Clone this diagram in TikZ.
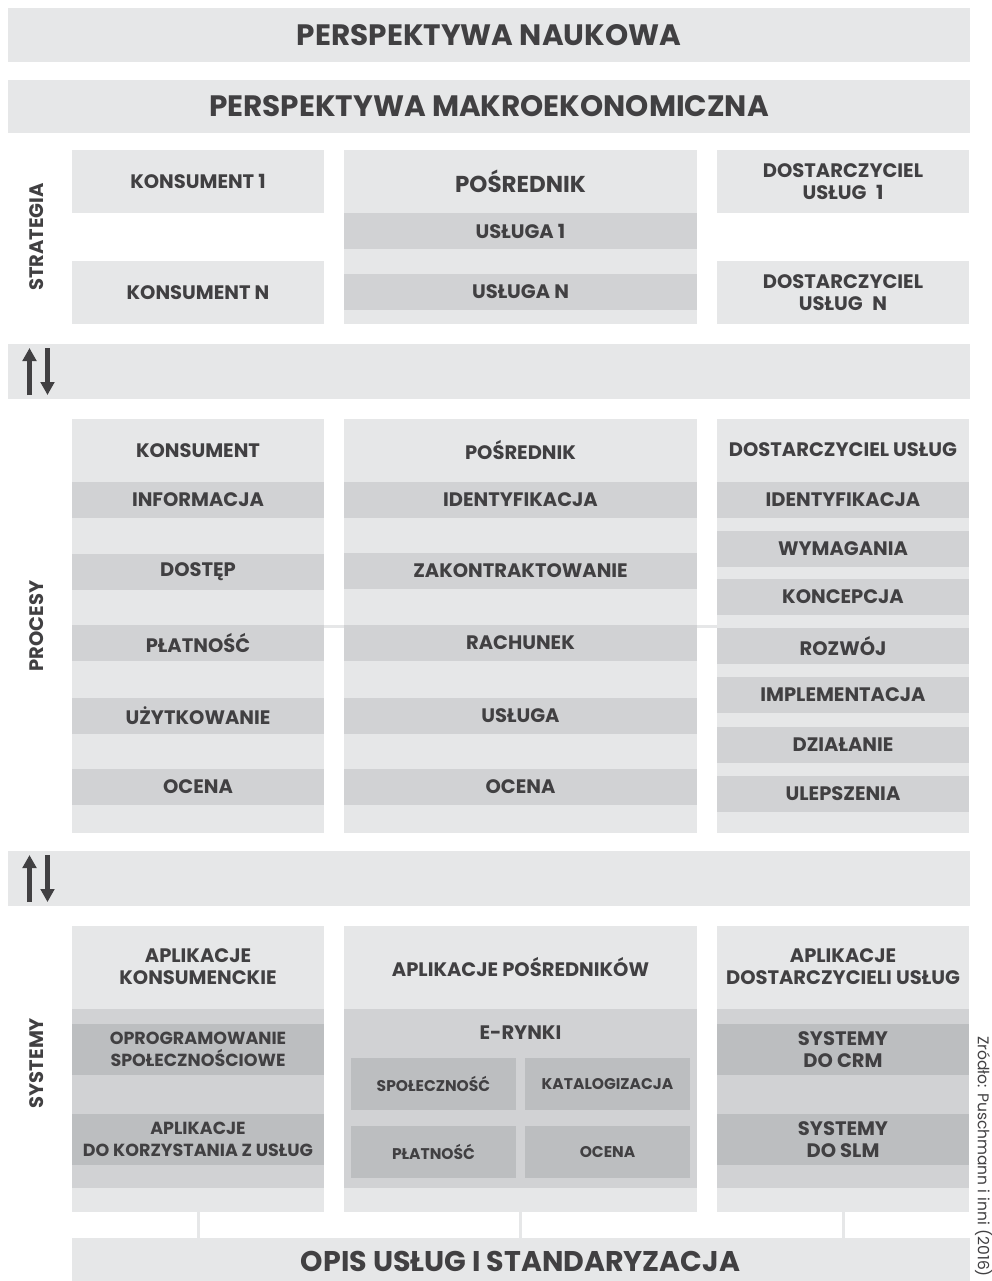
\documentclass[tikz,border=0pt]{standalone}
\usepackage{fontspec}
\setmainfont{Poppins}
\usetikzlibrary{arrows.meta}
\definecolor{lt}{HTML}{E6E7E8}
\definecolor{md}{HTML}{D1D2D4}
\definecolor{dk}{HTML}{BCBEC0}
\definecolor{tx}{HTML}{414042}
\newcommand\rb[7]{%
  \node[#2, minimum width={#5-#3}, minimum height={#6-#4}] (#1) at ({(#3+#5)/2},{-(#4+#6)/2}) {#7};}
\newcommand\lblfont{\bfseries\fontsize{19.5}{22}\selectfont}
\begin{document}
\begin{tikzpicture}[x=1pt,y=1pt,
  every node/.style={inner sep=0pt, outer sep=0pt, text=tx, align=center},
  lbox/.style={fill=lt, font=\lblfont},
  mbox/.style={fill=md, font=\lblfont},
  dbox/.style={fill=dk, font=\lblfont},
  dboxs/.style={fill=dk, font=\bfseries\fontsize{17.5}{22}\selectfont},
  sbox/.style={fill=dk, font=\bfseries\fontsize{15.5}{18}\selectfont},
  title/.style={fill=lt, font=\bfseries\fontsize{29.5}{34}\selectfont},
  hdr/.style={font=\lblfont},
  side/.style={rotate=90, font=\lblfont},
  arr/.style={draw=tx, line width=5pt, -{Triangle[length=13pt,width=13.5pt]}},
  conn/.style={draw=lt, line width=3pt},
  faint/.style={draw=lt, line width=2.5pt}]
\useasboundingbox (0,0) rectangle (992,-1281);
\fill[white] (0,0) rectangle (992,-1281);

% top bands
\rb{nauk}{title}{8}{8}{970}{62}{PERSPEKTYWA NAUKOWA}
\rb{makro}{title}{8}{80}{970}{133}{PERSPEKTYWA MAKROEKONOMICZNA}

% strategy
\node[side] (strat) at (37,-237) {STRATEGIA};
\rb{k1}{lbox}{72}{150}{324}{213}{KONSUMENT 1}
\rb{kn}{lbox}{72}{261}{324}{324}{KONSUMENT N}
\rb{spos}{lbox}{344}{150}{697}{324}{}
\node[font=\bfseries\fontsize{23}{26}\selectfont] (sposh) at (520.5,-181.5) {POŚREDNIK};
\rb{u1}{mbox}{344}{213}{697}{249}{USŁUGA 1}
\rb{un}{mbox}{344}{274}{697}{310}{USŁUGA N}
\rb{d1}{lbox}{717}{150}{969}{213}{DOSTARCZYCIEL\\USŁUG\enspace 1}
\rb{dn}{lbox}{717}{261}{969}{324}{DOSTARCZYCIEL\\USŁUG\enspace N}

% arrow band 1
\rb{arr1}{lbox}{8}{344}{970}{399}{}
\coordinate (a1u0) at (29.5,-395); \coordinate (a1u1) at (29.5,-348);
\coordinate (a1d0) at (47.5,-348); \coordinate (a1d1) at (47.5,-395);
\draw[arr] (a1u0) -- (a1u1);
\draw[arr] (a1d0) -- (a1d1);

% processes
\node[side] (proc) at (37,-626) {PROCESY};
\draw[faint] (324,-626.5) -- (717,-626.5);
\rb{pk}{lbox}{72}{419}{324}{833}{}
\node[hdr] (pkh) at (198,-450.5) {KONSUMENT};
\rb{pk1}{mbox}{72}{482}{324}{518}{INFORMACJA}
\rb{pk2}{mbox}{72}{554}{324}{590}{DOSTĘP}
\rb{pk3}{mbox}{72}{625}{324}{661}{PŁATNOŚĆ}
\rb{pk4}{mbox}{72}{698}{324}{734}{UŻYTKOWANIE}
\rb{pk5}{mbox}{72}{769}{324}{805}{OCENA}

\rb{pp}{lbox}{344}{419}{697}{833}{}
\node[hdr] (pph) at (520.5,-450.5) {POŚREDNIK};
\rb{pp1}{mbox}{344}{482}{697}{518}{IDENTYFIKACJA}
\rb{pp2}{mbox}{344}{553}{697}{589}{ZAKONTRAKTOWANIE}
\rb{pp3}{mbox}{344}{625}{697}{661}{RACHUNEK}
\rb{pp4}{mbox}{344}{698}{697}{734}{USŁUGA}
\rb{pp5}{mbox}{344}{769}{697}{805}{OCENA}

\rb{pd}{lbox}{717}{419}{969}{833}{}
\node[hdr] (pdh) at (843,-449.5) {DOSTARCZYCIEL USŁUG};
\rb{pd1}{mbox}{717}{482}{969}{518}{IDENTYFIKACJA}
\rb{pd2}{mbox}{717}{531}{969}{567}{WYMAGANIA}
\rb{pd3}{mbox}{717}{579}{969}{615}{KONCEPCJA}
\rb{pd4}{mbox}{717}{628}{969}{664}{ROZWÓJ}
\rb{pd5}{mbox}{717}{677}{969}{713}{IMPLEMENTACJA}
\rb{pd6}{mbox}{717}{727}{969}{763}{DZIAŁANIE}
\rb{pd7}{mbox}{717}{776}{969}{812}{ULEPSZENIA}

% arrow band 2
\rb{arr2}{lbox}{8}{851}{970}{906}{}
\coordinate (a2u0) at (29.5,-902); \coordinate (a2u1) at (29.5,-855);
\coordinate (a2d0) at (47.5,-855); \coordinate (a2d1) at (47.5,-902);
\draw[arr] (a2u0) -- (a2u1);
\draw[arr] (a2d0) -- (a2d1);

% systems
\node[side] (sys) at (37,-1063) {SYSTEMY};
\rb{sk}{lbox}{72}{926}{324}{1212}{}
\node[hdr] (skh) at (198,-967) {APLIKACJE\\KONSUMENCKIE};
\rb{skm}{mbox}{72}{1009}{324}{1188}{}
\rb{sk1}{dboxs}{72}{1024}{324}{1075}{OPROGRAMOWANIE\\SPOŁECZNOŚCIOWE}
\rb{sk2}{dboxs}{72}{1114}{324}{1165}{APLIKACJE\\DO KORZYSTANIA Z USŁUG}

\rb{sp}{lbox}{344}{926}{697}{1212}{}
\node[hdr] (sph) at (520.5,-967) {APLIKACJE POŚREDNIKÓW};
\rb{spm}{mbox}{344}{1009}{697}{1188}{}
\node[hdr] (erynki) at (520.5,-1033) {E-RYNKI};
\rb{sp1}{sbox}{351}{1058}{516}{1110}{SPOŁECZNOŚĆ}
\rb{sp2}{sbox}{525}{1058}{690}{1110}{KATALOGIZACJA}
\rb{sp3}{sbox}{351}{1126}{516}{1178}{PŁATNOŚĆ}
\rb{sp4}{sbox}{525}{1126}{690}{1178}{OCENA}

\rb{sd}{lbox}{717}{926}{969}{1212}{}
\node[hdr] (sdh) at (843,-967) {APLIKACJE\\DOSTARCZYCIELI USŁUG};
\rb{sdm}{mbox}{717}{1009}{969}{1188}{}
\rb{sd1}{dbox}{717}{1024}{969}{1075}{SYSTEMY\\DO CRM}
\rb{sd2}{dbox}{717}{1114}{969}{1165}{SYSTEMY\\DO SLM}

% bottom band
\rb{opis}{title}{72}{1238}{970}{1286}{}
\node[font=\bfseries\fontsize{28.5}{32}\selectfont] (opist) at (520.5,-1261) {OPIS USŁUG I STANDARYZACJA};
\draw[conn] (sk.south) -- (sk.south |- opis.north);
\draw[conn] (sp.south) -- (sp.south |- opis.north);
\draw[conn] (sd.south) -- (sd.south |- opis.north);

% source
\node[rotate=-90, anchor=south west, font=\fontsize{15.5}{18}\selectfont] (src) at (975,-1036) {Zródło: Puschmann i inni (2016)};
\end{tikzpicture}
\end{document}
